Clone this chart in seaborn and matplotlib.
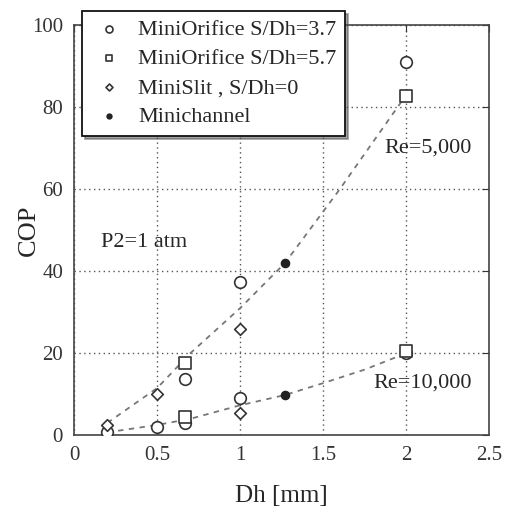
import pandas as pd
import matplotlib
matplotlib.use("Agg")
import matplotlib.pyplot as plt
import seaborn as sns

# ------------------------------
# Data
# ------------------------------
orifice37_dh = [0.2, 0.5, 0.67, 1.0, 2.0, 0.67, 1.0, 2.0]
orifice37_cop = [0.7, 2.0, 3.0, 9.0, 20.0, 13.7, 37.3, 91.0]

orifice57_dh = [0.67, 2.0, 0.67, 2.0]
orifice57_cop = [4.5, 20.5, 17.6, 82.7]

slit_dh = [0.2, 0.5, 1.0, 1.0]
slit_cop = [2.4, 10.0, 25.9, 5.4]

minichannel_dh = [1.27, 1.27]
minichannel_cop = [42.0, 9.8]

# dashed trend curves
re5000_dh = [0.2, 0.5, 0.7, 1.0, 1.27, 1.6, 2.0]
re5000_cop = [3.0, 11.5, 20.0, 31.0, 42.0, 60.0, 83.0]
re10000_dh = [0.2, 0.5, 0.7, 1.0, 1.27, 1.5, 1.75, 2.0]
re10000_cop = [0.7, 2.5, 4.0, 7.3, 9.8, 12.7, 16.0, 20.0]

sns.set_style("white")
plt.rcParams['font.family'] = ['Liberation Serif', 'DejaVu Serif']

fig = plt.figure(figsize=(5.15, 5.12), dpi=100)
ax = fig.add_axes([0.144, 0.150, 0.806, 0.801])

edge = "#333333"
ax.grid(True, linestyle=(0, (1, 2.5)), color="#555555", linewidth=1.0)

sns.lineplot(x=re5000_dh, y=re5000_cop, ax=ax, color="#777777",
             linestyle=(0, (3, 3)), linewidth=1.3, legend=False)
sns.lineplot(x=re10000_dh, y=re10000_cop, ax=ax, color="#777777",
             linestyle=(0, (3, 3)), linewidth=1.3, legend=False)

sns.scatterplot(x=orifice37_dh, y=orifice37_cop, ax=ax, marker="o", s=70,
                facecolor="white", edgecolor=edge, linewidth=1.2,
                label="MiniOrifice S/Dh=3.7", zorder=3)
sns.scatterplot(x=orifice57_dh, y=orifice57_cop, ax=ax, marker="s", s=65,
                facecolor="white", edgecolor=edge, linewidth=1.2,
                label="MiniOrifice S/Dh=5.7", zorder=3)
sns.scatterplot(x=slit_dh, y=slit_cop, ax=ax, marker="D", s=35,
                facecolor="white", edgecolor=edge, linewidth=1.2,
                label="MiniSlit , S/Dh=0", zorder=3)
sns.scatterplot(x=minichannel_dh, y=minichannel_cop, ax=ax, marker="o", s=35,
                facecolor="#222222", edgecolor="#222222", linewidth=1.0,
                label="Minichannel", zorder=3)

ax.set_xlim(0, 2.5)
ax.set_ylim(0, 100)
ax.set_xticks([0, 0.5, 1, 1.5, 2, 2.5])
ax.set_xticklabels(["0", "0.5", "1", "1.5", "2", "2.5"])
ax.set_yticks([0, 20, 40, 60, 80, 100])
ax.tick_params(direction="in", length=5, labelsize=15, colors="#333333",
               top=True, right=True, pad=8)
for s in ax.spines.values():
    s.set_color("#444444")
    s.set_linewidth(1.2)

ax.set_xlabel("Dh [mm]", fontsize=18, labelpad=14)
ax.set_ylabel("COP", fontsize=19, labelpad=-6)

ax.text(0.16, 46, "P2=1 atm", fontsize=16)
ax.text(1.87, 69, "Re=5,000", fontsize=16)
ax.text(1.8, 11.5, "Re=10,000", fontsize=16)

leg = ax.legend(loc="upper left", bbox_to_anchor=(0.02, 1.035), fontsize=16,
                frameon=True, fancybox=False, shadow=True, borderpad=0.4,
                handletextpad=0.5, labelspacing=0.38, borderaxespad=0,
                markerscale=0.6, handlelength=1.6)
leg.get_frame().set_edgecolor("#111111")
leg.get_frame().set_linewidth(1.3)
leg.set_zorder(5)

plt.savefig("out.png", dpi=100)
